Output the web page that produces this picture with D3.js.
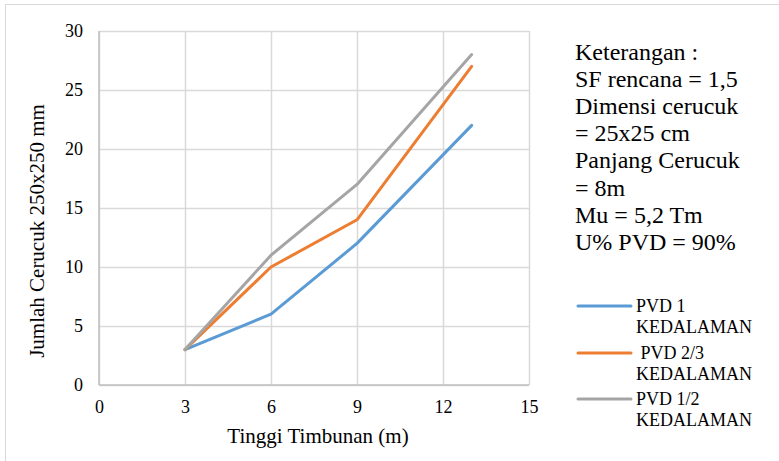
<!DOCTYPE html>
<html>
<head>
<meta charset="utf-8">
<script src="https://cdn.jsdelivr.net/npm/d3@7"></script>
<style>
  html, body { margin: 0; padding: 0; background: #fff; }
  svg { display: block; }
</style>
</head>
<body>
<svg id="chart" width="779" height="461"></svg>
<script>
// Tinggi timbunan (m) on the x axis
const heights = [3, 6, 9, 13];
// Jumlah cerucuk per PVD depth configuration
const pvd1 = [3, 6, 12, 22];
const pvd23 = [3, 10, 14, 27];
const pvd12 = [3, 11, 17, 28];

const seriesNames = ["PVD 1\nKEDALAMAN", " PVD 2/3\nKEDALAMAN", "PVD 1/2\nKEDALAMAN"];
const seriesColors = ["#5B9BD5", "#ED7D31", "#A5A5A5"];
const seriesValues = [pvd1, pvd23, pvd12];

const xTicks = [0, 3, 6, 9, 12, 15];
const yTicks = [0, 5, 10, 15, 20, 25, 30];

const notes = [
  "Keterangan :",
  "SF rencana = 1,5",
  "Dimensi cerucuk",
  "= 25x25 cm",
  "Panjang Cerucuk",
  "= 8m",
  "Mu = 5,2 Tm",
  "U% PVD = 90%"
];

const FONT = "'Liberation Serif', 'Times New Roman', serif";

const svg = d3.select("#chart")
  .attr("font-family", FONT);

// outer chart frame
svg.append("rect")
  .attr("x", 5.5).attr("y", 4.5)
  .attr("width", 780).attr("height", 470)
  .attr("fill", "none").attr("stroke", "#D9D9D9").attr("stroke-width", 1);

const plot = { left: 99, right: 529, top: 31, bottom: 385 };

const x = d3.scaleLinear().domain([0, 15]).range([plot.left, plot.right]);
const y = d3.scaleLinear().domain([0, 30]).range([plot.bottom, plot.top]);

const g = svg.append("g");

// vertical gridlines
g.append("g")
  .attr("transform", `translate(0,${plot.bottom})`)
  .call(d3.axisBottom(x).tickValues(xTicks).tickSize(-(plot.bottom - plot.top)).tickFormat(""))
  .call(s => s.select(".domain").remove())
  .call(s => s.selectAll("line").attr("stroke", "#D9D9D9").attr("stroke-width", 1.5));

// horizontal gridlines
g.append("g")
  .attr("transform", `translate(${plot.left},0)`)
  .call(d3.axisLeft(y).tickValues(yTicks).tickSize(-(plot.right - plot.left)).tickFormat(""))
  .call(s => s.select(".domain").remove())
  .call(s => s.selectAll("line").attr("stroke", "#D9D9D9").attr("stroke-width", 1.5));

// axis lines
g.append("line")
  .attr("x1", plot.left).attr("x2", plot.left)
  .attr("y1", plot.top).attr("y2", plot.bottom)
  .attr("stroke", "#BFBFBF").attr("stroke-width", 1.5);
g.append("line")
  .attr("x1", plot.left).attr("x2", plot.right)
  .attr("y1", plot.bottom).attr("y2", plot.bottom)
  .attr("stroke", "#BFBFBF").attr("stroke-width", 1.5);

// tick labels
const xAxis = g.append("g")
  .attr("transform", `translate(0,${plot.bottom})`)
  .call(d3.axisBottom(x).tickValues(xTicks).tickSize(0).tickPadding(15));
xAxis.attr("font-family", FONT).attr("font-size", 18);
xAxis.select(".domain").remove();
xAxis.selectAll("text").attr("fill", "#000");

const yAxis = g.append("g")
  .attr("transform", `translate(${plot.left},0)`)
  .call(d3.axisLeft(y).tickValues(yTicks).tickSize(0).tickPadding(16));
yAxis.attr("font-family", FONT).attr("font-size", 18);
yAxis.select(".domain").remove();
yAxis.selectAll("text").attr("fill", "#000");

// axis titles
svg.append("text")
  .attr("x", 318).attr("y", 443)
  .attr("text-anchor", "middle")
  .attr("font-size", 21)
  .text("Tinggi Timbunan (m)");

svg.append("text")
  .attr("transform", "translate(44,231) rotate(-90)")
  .attr("text-anchor", "middle")
  .attr("font-size", 21)
  .text("Jumlah Cerucuk 250x250 mm");

// series lines
const line = d3.line()
  .x((d, i) => x(heights[i]))
  .y(d => y(d));

seriesValues.forEach((vals, k) => {
  g.append("path")
    .datum(vals)
    .attr("d", line)
    .attr("fill", "none")
    .attr("stroke", seriesColors[k])
    .attr("stroke-width", 3)
    .attr("stroke-linejoin", "round")
    .attr("stroke-linecap", "round");
});

// notes block
const noteG = svg.append("g");
notes.forEach((t, i) => {
  noteG.append("text")
    .attr("x", 575)
    .attr("y", 60 + i * 27.1)
    .attr("font-size", 24)
    .text(t);
});

// legend
const legendY = [306, 353, 399];
seriesNames.forEach((name, k) => {
  const ly = legendY[k];
  svg.append("line")
    .attr("x1", 578).attr("x2", 631)
    .attr("y1", ly).attr("y2", ly)
    .attr("stroke", seriesColors[k]).attr("stroke-width", 3)
    .attr("stroke-linecap", "round");
  const parts = name.split("\n");
  parts.forEach((p, j) => {
    svg.append("text")
      .attr("x", 636)
      .attr("y", ly + 6 + j * 21)
      .attr("font-size", 18)
      .attr("xml:space", "preserve")
      .style("white-space", "pre")
      .text(p);
  });
});
</script>
</body>
</html>
